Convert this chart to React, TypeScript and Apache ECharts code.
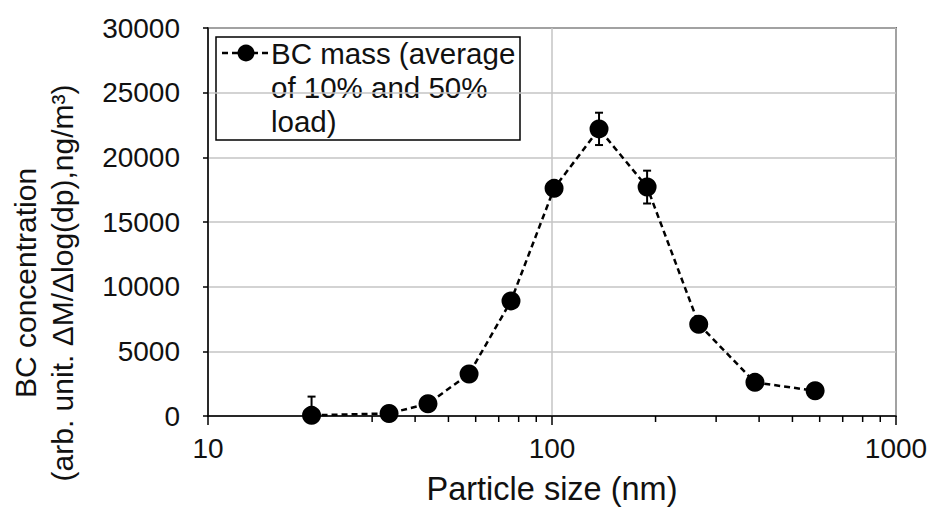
import React, { useEffect, useRef } from "react";
import * as echarts from "echarts";

const particleSize = [20, 33.6, 43.6, 57.4, 76, 101.4, 137, 189, 267, 389, 582];
const bcMass = [50, 200, 950, 3250, 8900, 17600, 22200, 17700, 7100, 2600, 1950];
const bcError = [1450, 150, 150, 200, 300, 300, 1250, 1270, 250, 200, 150];
const minorTicks = [20, 30, 40, 50, 60, 70, 80, 90, 200, 300, 400, 500, 600, 700, 800, 900];
const legendLines = ["BC mass (average", "of 10% and 50%", "load)"];
const yNameLines = ["BC concentration", "(arb. unit. ΔM/Δlog(dp),ng/m³)"];

const FONT = "Liberation Sans, Arial, sans-serif";
const TXT = "#111";

export default function App() {
  const ref = useRef<HTMLDivElement>(null);
  useEffect(() => {
    if (!ref.current) return;
    const chart = echarts.init(ref.current, undefined, { renderer: "svg" });
    const errData = particleSize.map((x, i) => [x, Math.max(0, bcMass[i] - bcError[i]), bcMass[i] + bcError[i], bcMass[i] - bcError[i] >= 0 ? 1 : 0]);
    chart.setOption({
      animation: false,
      backgroundColor: "#fff",
      textStyle: { fontFamily: FONT, color: TXT },
      grid: {
        left: 208, right: 38, top: 28, bottom: 95,
        show: true, borderColor: "#000", borderWidth: 1.5, backgroundColor: "transparent",
      },
      xAxis: {
        type: "log", logBase: 10, min: 10, max: 1000,
        name: "Particle size (nm)", nameLocation: "middle", nameGap: 56,
        nameTextStyle: { fontSize: 32.5, color: TXT, fontFamily: FONT },
        axisLine: { show: true, lineStyle: { color: "#000", width: 1.5 } },
        axisTick: { show: true, length: 9, lineStyle: { color: "#000", width: 1.5 } },
        axisLabel: { fontSize: 28, color: TXT, margin: 18, fontFamily: FONT, formatter: (v: number) => String(Math.round(v)) },
        splitLine: { show: true, lineStyle: { color: "#c4c4c4", width: 1.5 } },
      },
      yAxis: {
        type: "value", min: 0, max: 30000, interval: 5000,
        axisLine: { show: true, lineStyle: { color: "#000", width: 1.5 } },
        axisTick: { show: true, length: 5, lineStyle: { color: "#000", width: 1.5 } },
        axisLabel: { fontSize: 28, color: TXT, margin: 28, fontFamily: FONT, formatter: (v: number) => String(v) },
        splitLine: { show: true, lineStyle: { color: "#c4c4c4", width: 1.5 } },
      },
      series: [
        {
          type: "custom",
          name: "minor ticks",
          clip: false,
          silent: true,
          data: minorTicks.map((v) => [v, 0]),
          encode: { x: 0, y: 1 },
          renderItem: (params: any, api: any) => {
            const p = api.coord([api.value(0), 0]);
            return {
              type: "line",
              shape: { x1: p[0], y1: p[1], x2: p[0], y2: p[1] + 6 },
              style: { stroke: "#000", lineWidth: 1.5 },
            };
          },
          z: 1,
        },
        {
          type: "custom",
          name: "error",
          clip: false,
          silent: true,
          data: errData,
          encode: { x: 0, y: [1, 2] },
          renderItem: (params: any, api: any) => {
            const x = api.value(0);
            const lo = api.coord([x, api.value(1)]);
            const hi = api.coord([x, api.value(2)]);
            const showLow = api.value(3) === 1;
            const cw = 4;
            const children: any[] = [
              { type: "line", shape: { x1: hi[0], y1: hi[1], x2: lo[0], y2: lo[1] }, style: { stroke: "#000", lineWidth: 2 } },
              { type: "line", shape: { x1: hi[0] - cw, y1: hi[1], x2: hi[0] + cw, y2: hi[1] }, style: { stroke: "#000", lineWidth: 2 } },
            ];
            if (showLow) {
              children.push({ type: "line", shape: { x1: lo[0] - cw, y1: lo[1], x2: lo[0] + cw, y2: lo[1] }, style: { stroke: "#000", lineWidth: 2 } });
            }
            return { type: "group", children };
          },
          z: 2,
        },
        {
          type: "line",
          name: "BC mass (average of 10% and 50% load)",
          data: particleSize.map((x, i) => [x, bcMass[i]]),
          symbol: "circle",
          symbolSize: 19,
          itemStyle: { color: "#000" },
          lineStyle: { color: "#000", width: 2.5, type: [6, 4] },
          z: 3,
        },
      ],
      graphic: [
        {
          type: "text",
          x: 44, y: 283, rotation: Math.PI / 2,
          style: { text: yNameLines.join("\n"), font: `30px ${FONT}`, fill: TXT, lineHeight: 37, align: "center", verticalAlign: "middle" },
        },
        {
          type: "group",
          z: 100,
          children: [
            { type: "rect", shape: { x: 216, y: 37, width: 304, height: 103 }, style: { fill: "#fff", stroke: "#000", lineWidth: 1.5 } },
            { type: "line", shape: { x1: 222, y1: 53, x2: 268, y2: 53 }, style: { stroke: "#000", lineWidth: 2.5, lineDash: [6, 4] } },
            { type: "circle", shape: { cx: 246, cy: 53, r: 8.5 }, style: { fill: "#000" } },
            {
              type: "text", x: 271, y: 36,
              style: { text: legendLines.join("\n"), font: `29.5px ${FONT}`, fill: TXT, lineHeight: 34, verticalAlign: "top", align: "left" },
            },
          ],
        },
      ],
    });
    return () => chart.dispose();
  }, []);
  return <div ref={ref} style={{ width: 934, height: 511, position: "absolute", left: 0, top: 0 }} />;
}
